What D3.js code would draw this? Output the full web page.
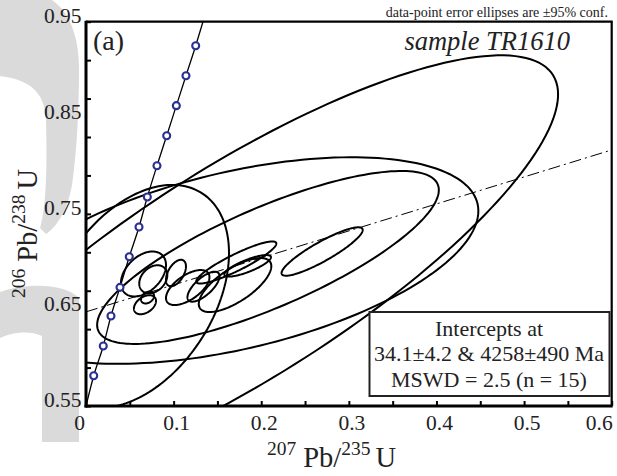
<!DOCTYPE html>
<html>
<head>
<meta charset="utf-8">
<script src="https://cdn.jsdelivr.net/npm/d3@7"></script>
<style>
  html, body { margin: 0; padding: 0; background: #fff; }
  svg { display: block; font-family: "Liberation Serif", "Times New Roman", serif; }
</style>
</head>
<body>
<svg id="chart" width="617" height="476"></svg>
<script>
// U-Pb analyses: 207Pb/235U, 206Pb/238U with 2-sigma half-widths and error correlation
const ratio207_235 = [0.1758, 0.1701, 0.2695, 0.2077, 0.0571, 0.0656, 0.1027, 0.0768, 0.0673, 0.0702, 0.1161, 0.1341, 0.1715, 0.1701, 0.1845];
const err207_235   = [0.363, 0.2777, 0.0463, 0.195, 0.1061, 0.0257, 0.0114, 0.016, 0.0126, 0.0074, 0.0248, 0.0183, 0.0457, 0.0414, 0.0266];
const ratio206_238 = [0.6890, 0.7014, 0.7108, 0.7046, 0.664, 0.6874, 0.6884, 0.6819, 0.6554, 0.6629, 0.6733, 0.6742, 0.6994, 0.6759, 0.6959];
const err206_238   = [0.226, 0.1075, 0.0252, 0.090, 0.1161, 0.0234, 0.0138, 0.0146, 0.0099, 0.0062, 0.0182, 0.0156, 0.0219, 0.0281, 0.0112];
const errCorr      = [0.82, 0.48, 0.89, 0.78, 0.39, 0.4, 0.5, 0.3, 0.4, 0.3, 0.6, 0.7, 0.9, 0.7, 0.8];

// concordia curve and its age markers
const concordiaX = [0, 0.0088, 0.0197, 0.0285, 0.0388, 0.0494, 0.0605, 0.0700, 0.0810, 0.0921, 0.1031, 0.1141, 0.1252, 0.1335];
const concordiaY = [0.55, 0.5815, 0.6125, 0.6437, 0.6735, 0.7054, 0.7363, 0.7675, 0.8001, 0.8313, 0.8626, 0.8938, 0.9250, 0.95];
const markerX = [0.0088, 0.0197, 0.0285, 0.0388, 0.0494, 0.0605, 0.0700, 0.0810, 0.0921, 0.1031, 0.1141, 0.1252];
const markerY = [0.5815, 0.6125, 0.6437, 0.6735, 0.7054, 0.7363, 0.7675, 0.8001, 0.8313, 0.8626, 0.8938, 0.9250];

// regression (discordia) line end points
const discordiaX = [0, 0.6];
const discordiaY = [0.648, 0.8165];

// axis ticks and labels
const xTicks = [0, 0.05, 0.1, 0.15, 0.2, 0.25, 0.3, 0.35, 0.4, 0.45, 0.5, 0.55, 0.6];
const xLabels = [0, 0.1, 0.2, 0.3, 0.4, 0.5, 0.6];
const yTicks = [0.55, 0.59, 0.63, 0.67, 0.71, 0.75, 0.79, 0.83, 0.87, 0.91, 0.95];
const yLabels = [0.55, 0.65, 0.75, 0.85, 0.95];

const resultLines = ["Intercepts at", "34.1\u00b14.2 & 4258\u00b1490 Ma", "MSWD = 2.5 (n = 15)"];

const svg = d3.select("#chart");
const L = 86, R = 611.7, T = 21.7, B = 406;
const x = d3.scaleLinear().domain([0, 0.6]).range([L, R]);
const y = d3.scaleLinear().domain([0.55, 0.95]).range([B, T]);

// faint grey lettering behind the left margin
const wm = svg.append("g").attr("fill", "#dadada");
wm.append("path").attr("d",
  "M0,0 L52,0 C70,12 79,38 79,68 C79,110 77,150 72,185 C68,208 58,226 46,234 L40,228 " +
  "C47,205 47,160 46,120 C45,96 34,80 0,76 Z");
wm.append("path").attr("d",
  "M0,292 C28,282 66,284 79,298 L79,442 L42,442 L42,336 C30,330 12,332 0,338 Z");

svg.append("defs").append("clipPath").attr("id", "plotclip")
  .append("rect").attr("x", L).attr("y", T).attr("width", R - L).attr("height", B - T);

svg.append("rect").attr("x", L).attr("y", T).attr("width", R - L).attr("height", B - T).attr("fill", "#fff");

const plot = svg.append("g").attr("clip-path", "url(#plotclip)");

// error ellipses
function ellipsePoints(i) {
  const pts = [];
  const r = errCorr[i], q = Math.sqrt(1 - r * r);
  for (let k = 0; k <= 180; k++) {
    const t = (k / 180) * 2 * Math.PI;
    const c = Math.cos(t), s = Math.sin(t);
    pts.push([x(ratio207_235[i] + err207_235[i] * c),
              y(ratio206_238[i] + err206_238[i] * (r * c + q * s))]);
  }
  return pts;
}
const line = d3.line();
plot.selectAll("path.ell").data(d3.range(ratio207_235.length)).join("path")
  .attr("class", "ell")
  .attr("d", i => line(ellipsePoints(i)) + "Z")
  .attr("fill", "none").attr("stroke", "#000").attr("stroke-width", 2);

// regression line
plot.append("path")
  .attr("d", line(discordiaX.map((v, i) => [x(v), y(discordiaY[i])])))
  .attr("fill", "none").attr("stroke", "#000").attr("stroke-width", 1)
  .attr("stroke-dasharray", "12,4,2,4");

// concordia
plot.append("path")
  .attr("d", d3.line().curve(d3.curveMonotoneX)(concordiaX.map((v, i) => [x(v), y(concordiaY[i])])))
  .attr("fill", "none").attr("stroke", "#000").attr("stroke-width", 1.3);

plot.selectAll("circle.age").data(markerX).join("circle")
  .attr("class", "age")
  .attr("cx", d => x(d)).attr("cy", (d, i) => y(markerY[i]))
  .attr("r", 3.5).attr("fill", "#fff").attr("stroke", "#2a2f93").attr("stroke-width", 2.1);

// axes
svg.append("g").attr("transform", `translate(0,${B})`)
  .call(d3.axisBottom(x).tickValues(xTicks).tickSize(-5).tickFormat(""))
  .call(g => { g.select(".domain").remove(); g.selectAll("line").attr("stroke-width", 2); });
svg.append("g").attr("transform", `translate(${L},0)`)
  .call(d3.axisLeft(y).tickValues(yTicks).tickSize(-5).tickFormat(""))
  .call(g => { g.select(".domain").remove(); g.selectAll("line").attr("stroke-width", 2); });

// frame
svg.append("line").attr("x1", L).attr("x2", R + 1).attr("y1", T).attr("y2", T).attr("stroke", "#000").attr("stroke-width", 2.2);
svg.append("line").attr("x1", R).attr("x2", R).attr("y1", T).attr("y2", B).attr("stroke", "#000").attr("stroke-width", 2.2);
svg.append("line").attr("x1", L).attr("x2", L).attr("y1", T - 1).attr("y2", B + 1.5).attr("stroke", "#000").attr("stroke-width", 3);
svg.append("line").attr("x1", L - 1.5).attr("x2", R + 1).attr("y1", B).attr("y2", B).attr("stroke", "#000").attr("stroke-width", 3);

// tick labels
svg.selectAll("text.xl").data(xLabels).join("text")
  .attr("class", "xl")
  .attr("x", (d, i) => i === 0 ? x(d) - 1 : (i === xLabels.length - 1 ? x(d) + 1 : x(d) + 3))
  .attr("y", 430)
  .attr("text-anchor", (d, i) => (i === 0 || i === xLabels.length - 1) ? "end" : "middle")
  .attr("font-size", 21.5).attr("fill", "#222")
  .text(d => d === 0 ? "0" : d3.format(".1f")(d));
svg.selectAll("text.yl").data(yLabels).join("text")
  .attr("class", "yl")
  .attr("x", L - 4.5).attr("y", d => y(d) + 1)
  .attr("text-anchor", "end")
  .attr("font-size", 21.5).attr("fill", "#222")
  .text(d => d3.format(".2f")(d));

// axis titles with superscript mass numbers
function isotopeTitle(g, top, bottom) {
  const t = g.append("text").attr("font-size", 28.5).attr("fill", "#222");
  t.append("tspan").attr("font-size", 19.5).attr("dy", -12).text(top);
  t.append("tspan").attr("dy", 12).attr("dx", 7).text("Pb/");
  t.append("tspan").attr("font-size", 19.5).attr("dy", -12).text(bottom);
  t.append("tspan").attr("dy", 12).attr("dx", 5).text("U");
}
isotopeTitle(svg.append("g").attr("transform", "translate(267,467)"), "207", "235");
isotopeTitle(svg.append("g").attr("transform", "translate(37,298) rotate(-90)"), "206", "238");

// annotations
svg.append("text").attr("x", 608).attr("y", 16.5).attr("text-anchor", "end")
  .attr("font-size", 14).attr("fill", "#222").text("data-point error ellipses are \u00b195% conf.");
svg.append("text").attr("x", 93).attr("y", 50).attr("font-size", 28).attr("fill", "#222").text("(a)");
svg.append("text").attr("x", 570).attr("y", 50).attr("text-anchor", "end")
  .attr("font-size", 26.5).attr("font-style", "italic").attr("fill", "#222").text("sample TR1610");

// results box
const box = svg.append("g");
box.append("rect").attr("x", 369.5).attr("y", 312).attr("width", 240).attr("height", 84)
  .attr("fill", "#fff").attr("stroke", "#222").attr("stroke-width", 2);
box.selectAll("text").data(resultLines).join("text")
  .attr("x", 489).attr("y", (d, i) => 336 + i * 25.3)
  .attr("text-anchor", "middle").attr("font-size", 22).attr("fill", "#222")
  .text(d => d);
</script>
</body>
</html>
